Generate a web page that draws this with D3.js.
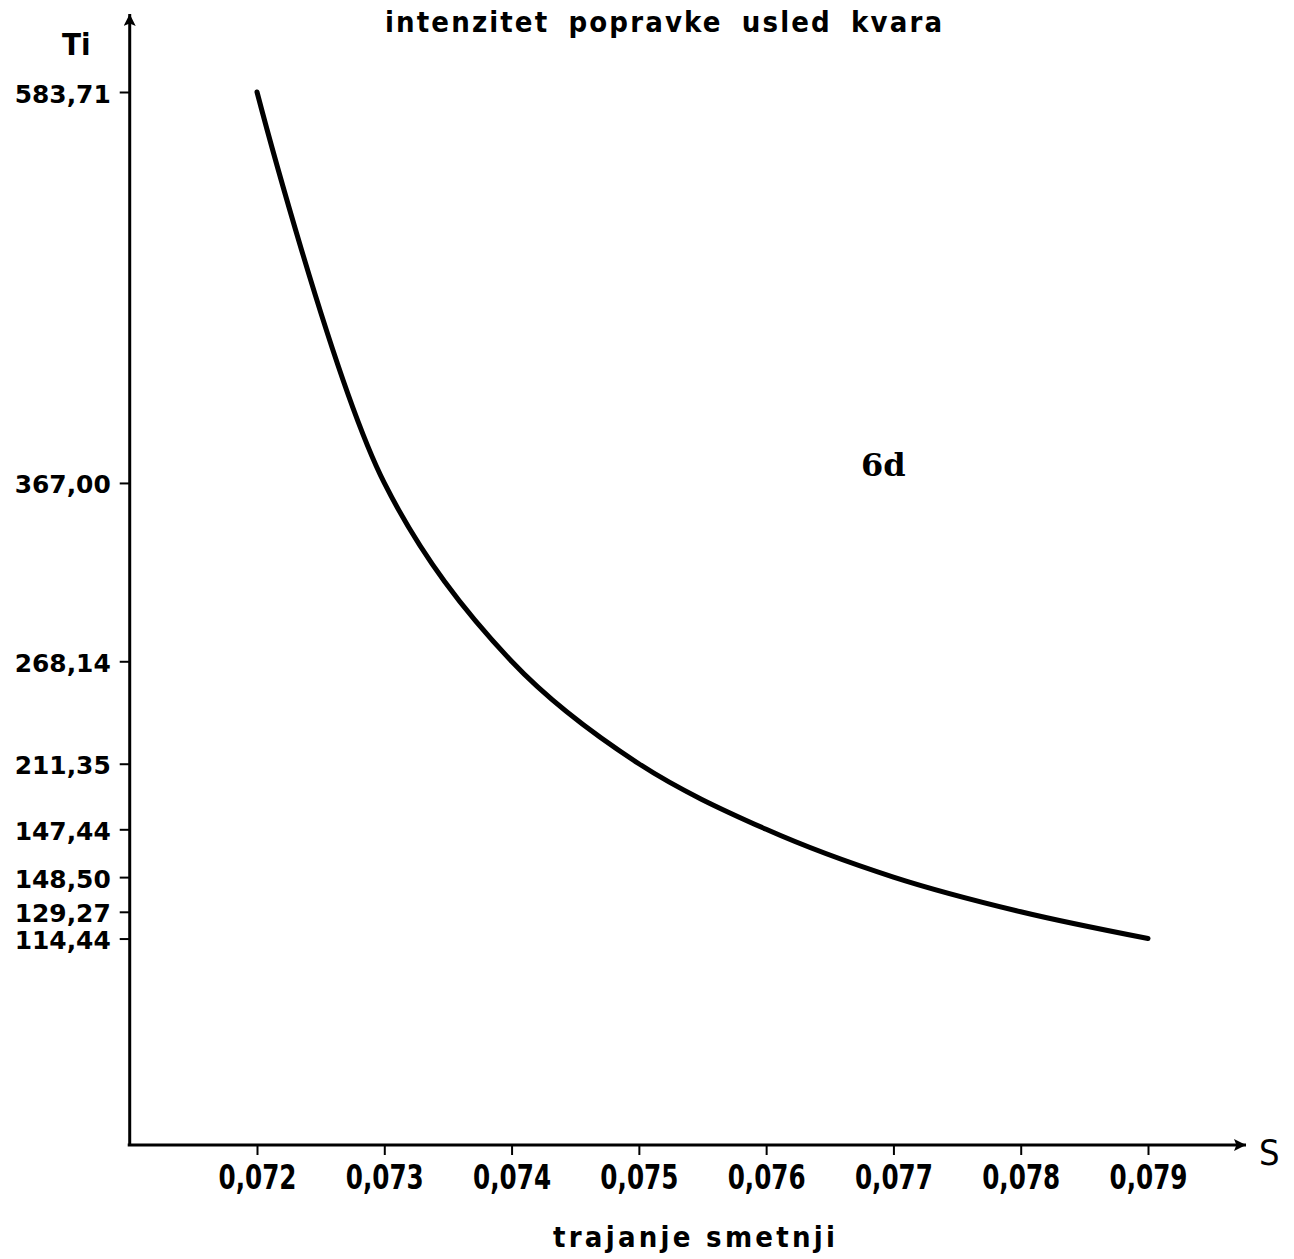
<!DOCTYPE html>
<html>
<head>
<meta charset="utf-8">
<script src="https://cdn.jsdelivr.net/npm/d3@7"></script>
<style>
  body { margin: 0; background: #fff; }
  text { font-family: "DejaVu Sans Condensed", "DejaVu Sans", sans-serif; font-weight: bold; fill: #000; }
</style>
</head>
<body>
<div class="chart"></div>
<script>
// values
var sValues = [0.072, 0.073, 0.074, 0.075, 0.076, 0.077, 0.078, 0.079];
// heights where the curve is actually drawn (the 0,076 point sits higher than its label says)
var tiPlotted = [583.71, 367.0, 268.14, 211.35, 175.0, 148.5, 129.27, 114.44];
// labels printed next to the y ticks
var tiLabels = ["583,71", "367,00", "268,14", "211,35", "147,44", "148,50", "129,27", "114,44"];

var w = 1294;
var h = 1259;

var svg = d3.select(".chart")
    .append("svg")
    .attr("width", w)
    .attr("height", h);

var x = d3.scaleLinear()
    .domain([0.072, 0.079])
    .range([257, 1148]);

var y = d3.scaleLinear()
    .domain([0, 583.71])
    .range([1145, 92]);

var x0 = x(0.071);

// arrow head
svg.append("defs").append("marker")
    .attr("id", "arrow")
    .attr("viewBox", "0 0 10 10")
    .attr("refX", 10)
    .attr("refY", 5)
    .attr("markerWidth", 8)
    .attr("markerHeight", 4)
    .attr("markerUnits", "strokeWidth")
    .attr("orient", "auto")
    .append("path")
    .attr("d", "M0,0 L10,5 L0,10 L2,5 Z")
    .attr("fill", "#000");

// y axis
var yAxis = d3.axisLeft(y)
    .tickValues(tiPlotted)
    .tickFormat(function (d, i) { return tiLabels[i]; })
    .tickSize(10)
    .tickPadding(9);

var gy = svg.append("g")
    .attr("transform", "translate(" + x0 + ",0)")
    .call(yAxis);
gy.select(".domain").remove();
gy.selectAll(".tick line").attr("stroke", "#000").attr("stroke-width", 2);
gy.selectAll(".tick text")
    .attr("dy", "0.4em")
    .attr("textLength", 96)
    .attr("lengthAdjust", "spacingAndGlyphs")
    .style("font-size", "25px");

// x axis
var xAxis = d3.axisBottom(x)
    .tickValues(sValues)
    .tickFormat(function (d) { return d3.format(".3f")(d).replace(".", ","); })
    .tickSize(10)
    .tickPadding(10);

var gx = svg.append("g")
    .attr("transform", "translate(0," + y(0) + ")")
    .call(xAxis);
gx.select(".domain").remove();
gx.selectAll(".tick line").attr("stroke", "#000").attr("stroke-width", 2);
gx.selectAll(".tick text")
    .attr("textLength", 78)
    .attr("lengthAdjust", "spacingAndGlyphs")
    .style("font-size", "34px");

// axis lines with arrows
svg.append("line")
    .attr("x1", x0).attr("y1", y(0))
    .attr("x2", x0).attr("y2", y(627))
    .attr("stroke", "#000")
    .attr("stroke-width", 3)
    .attr("marker-end", "url(#arrow)");

svg.append("line")
    .attr("x1", x0 - 2).attr("y1", y(0))
    .attr("x2", x(0.07977)).attr("y2", y(0))
    .attr("stroke", "#000")
    .attr("stroke-width", 3)
    .attr("marker-end", "url(#arrow)");

// curve
var line = d3.line()
    .x(function (d, i) { return x(sValues[i]); })
    .y(function (d) { return y(d); })
    .curve(d3.curveCatmullRom.alpha(0.5));

svg.append("path")
    .datum(tiPlotted)
    .attr("d", line)
    .attr("fill", "none")
    .attr("stroke", "#000")
    .attr("stroke-width", 5)
    .attr("stroke-linecap", "round");

// texts
svg.append("text")
    .attr("x", 385)
    .attr("y", 32)
    .attr("textLength", 557)
    .attr("lengthAdjust", "spacing")
    .style("font-size", "29px")
    .style("word-spacing", "8px")
    .text("intenzitet popravke usled kvara");

svg.append("text")
    .attr("x", 62)
    .attr("y", 55)
    .style("font-size", "31px")
    .text("Ti");

svg.append("text")
    .attr("x", 1259)
    .attr("y", 1165)
    .style("font-size", "36px")
    .style("font-weight", "normal")
    .text("S");

svg.append("text")
    .attr("x", 553)
    .attr("y", 1247)
    .attr("textLength", 282)
    .attr("lengthAdjust", "spacing")
    .style("font-size", "29px")
    .text("trajanje smetnji");

svg.append("text")
    .attr("x", 861)
    .attr("y", 476)
    .style("font-family", "'DejaVu Serif', serif")
    .style("font-size", "32px")
    .text("6d");
</script>
</body>
</html>
